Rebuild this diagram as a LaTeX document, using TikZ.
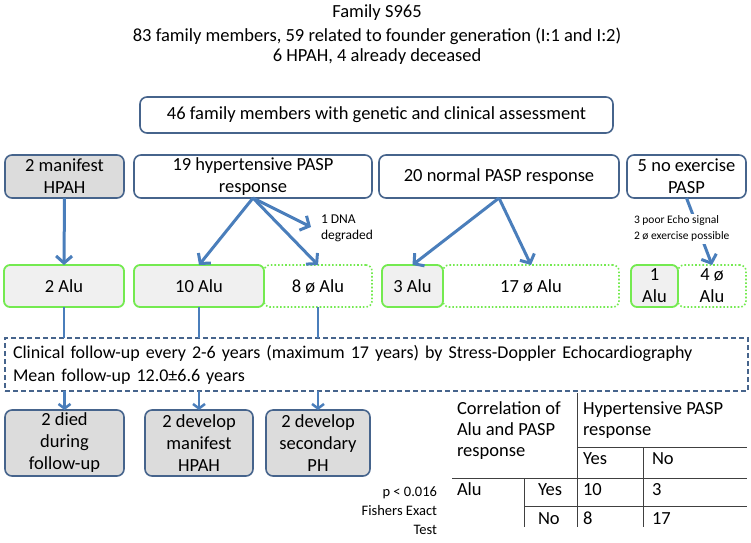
\documentclass[tikz,border=0pt]{standalone}
\usepackage{fontspec}
\setmainfont{Carlito}
\usetikzlibrary{arrows.meta,calc}
\definecolor{arrowblue}{HTML}{4A7EBB}
\definecolor{boxline}{HTML}{46648C}
\definecolor{grayfill}{HTML}{DCDCDC}
\definecolor{alufill}{HTML}{F0F0F0}
\definecolor{alugreen}{HTML}{74EA50}
\definecolor{tabline}{HTML}{404040}
\begin{document}
\begin{tikzpicture}[x=1pt,y=-1pt,
  every node/.style={inner sep=0pt, outer sep=0pt},
  bigfont/.style={font=\fontsize{18.5}{22}\selectfont},
  bluebox/.style={draw=boxline, line width=1.6pt, rounded corners=7pt, fill=white, align=center, bigfont},
  graybox/.style={bluebox, fill=grayfill},
  alubox/.style={draw=alugreen, line width=1.8pt, rounded corners=6pt, fill=alufill, align=center, bigfont, minimum height=42pt},
  noalubox/.style={draw=alugreen, line width=1.6pt, dotted, rounded corners=6pt, fill=white, align=center, bigfont, minimum height=42pt},
  bigarrow/.style={draw=arrowblue, line width=3pt, -{Straight Barb[length=7pt,width=16pt]}},
  smallarrow/.style={draw=arrowblue, line width=2.5pt, -{Straight Barb[length=4.5pt,width=12pt]}},
  linkline/.style={draw=arrowblue, line width=2pt},
  titlefont/.style={font=\fontsize{18.5}{22}\selectfont},
  tabtext/.style={font=\fontsize{18.5}{22}\selectfont, anchor=mid west},
  tabrule/.style={draw=tabline, line width=0.8pt},
]
\useasboundingbox (0,0) rectangle (751,542);

% title
\node[titlefont] (t1) at (377,13) {Family S965};
\node[titlefont] (t2) at (377,36) {83 family members, 59 related to founder generation (I:1 and I:2)};
\node[titlefont] (t3) at (377,57) {6 HPAH, 4 already deceased};

% assessment
\node[bluebox, minimum width=473pt, minimum height=36pt] (assess) at (376.5,115) {46 family members with genetic and clinical assessment};

% second row
\node[graybox, minimum width=119pt, minimum height=43pt] (manifest) at (64.5,176.5) {2 manifest\\HPAH};
\node[bluebox, minimum width=238pt, minimum height=43pt] (hyper) at (253,176.5) {19 hypertensive PASP\\response};
\node[bluebox, minimum width=240pt, minimum height=43pt] (normal) at (499,176.5) {20 normal PASP response};
\node[bluebox, minimum width=119pt, minimum height=43pt] (noex) at (686.5,176.5) {5 no exercise\\PASP};

% third row
\node[noalubox, minimum width=108pt] (noalu8) at (318,286) {8 ø Alu};
\node[noalubox, minimum width=176pt] (noalu17) at (531,286) {17 ø Alu};
\node[noalubox, minimum width=68pt] (noalu4) at (712,286) {4 ø\\Alu};
\node[alubox, minimum width=120pt] (alu2) at (64,286) {2 Alu};
\node[alubox, minimum width=130pt] (alu10) at (199,286) {10 Alu};
\node[alubox, minimum width=61pt] (alu3) at (412.5,286) {3 Alu};
\node[alubox, minimum width=47pt] (alu1) at (654.5,286) {1\\Alu};

% annotations
\node[font=\fontsize{13.5}{16}\selectfont, align=left, anchor=north west] (dna) at (321,215) {1 DNA\\degraded};
\coordinate (dnatip) at (311,227);

% arrows
\draw[bigarrow] (manifest.south) -- (alu2.north);
\draw[bigarrow] (hyper.south) -- (alu10.north);
\draw[bigarrow] (hyper.south) -- (noalu8.north);
\draw[bigarrow] (hyper.south) -- (dnatip);
\draw[bigarrow] (normal.south) -- (alu3.north);
\draw[bigarrow] (normal.south) -- (noalu17.north);
\draw[bigarrow] (noex.south) -- (noalu4.north);
\node[font=\fontsize{11.5}{16}\selectfont, align=left, fill=white, inner ysep=2pt, anchor=north west] (echo) at (634,214) {3 poor Echo signal\\2 ø exercise possible};

% follow-up box
\node[draw=boxline, line width=1.3pt, dash pattern=on 5pt off 3pt, minimum height=53pt,
      text width=727pt, inner xsep=8pt, align=left, font=\fontsize{18}{23}\selectfont] (follow) at (376.5,364.5)
  {Clinical follow-up every 2-6 years (maximum 17 years) by Stress-Doppler Echocardiography\\Mean follow-up 12.0±6.6 years};

\draw[linkline] (alu2.south) -- (alu2.south |- follow.north);
\draw[linkline] (alu10.south) -- (alu10.south |- follow.north);
\draw[linkline] (noalu8.south) -- (noalu8.south |- follow.north);

% bottom boxes
\node[graybox, minimum width=119pt, minimum height=66pt] (died) at (64.5,443) {2 died\\during\\follow-up};
\node[graybox, minimum width=108pt, minimum height=66pt] (devman) at (199,443) {2 develop\\manifest\\HPAH};
\node[graybox, minimum width=104pt, minimum height=66pt] (devsec) at (318,443) {2 develop\\secondary\\PH};

\draw[smallarrow] (follow.south -| died.north) -- (died.north);
\draw[smallarrow] (follow.south -| devman.north) -- (devman.north);
\draw[smallarrow] (follow.south -| devsec.north) -- (devsec.north);

% table
\draw[tabrule] (577,393) -- (577,527);
\draw[tabrule] (577,447) -- (747,447);
\draw[tabrule] (643,447) -- (643,527);
\draw[tabrule] (452,478) -- (747,478);
\draw[tabrule] (524,506) -- (747,506);
\draw[tabrule] (524,478) -- (524,527);

\node[tabtext] (c1) at (457,412) {Correlation of};
\node[tabtext] (c2) at (457,433) {Alu and PASP};
\node[tabtext] (c3) at (457,454) {response};
\node[tabtext] (h1) at (583,412) {Hypertensive PASP};
\node[tabtext] (h2) at (583,433) {response};
\node[tabtext] (hy) at (583,462) {Yes};
\node[tabtext] (hn) at (652,462) {No};
\node[tabtext] (ra) at (457,493) {Alu};
\node[tabtext] (ry) at (538,493) {Yes};
\node[tabtext] (v1) at (583,493) {10};
\node[tabtext] (v2) at (652,493) {3};
\node[tabtext] (rn) at (538,522) {No};
\node[tabtext] (v3) at (583,522) {8};
\node[tabtext] (v4) at (652,522) {17};

\node[font=\fontsize{14.5}{18}\selectfont, anchor=mid east] (p1) at (437,494) {p < 0.016};
\node[font=\fontsize{14.5}{18}\selectfont, anchor=mid east] (p2) at (437,513) {Fishers Exact};
\node[font=\fontsize{14.5}{18}\selectfont, anchor=mid east] (p3) at (437,532) {Test};
\end{tikzpicture}
\end{document}
